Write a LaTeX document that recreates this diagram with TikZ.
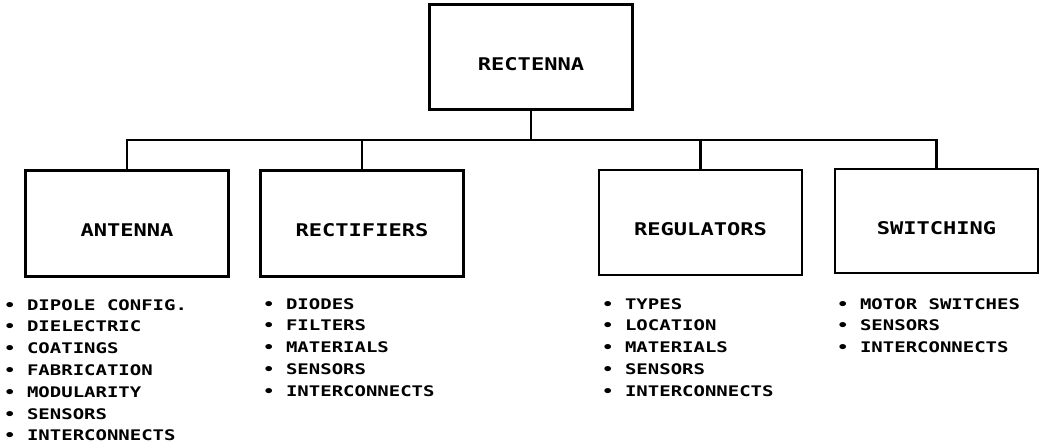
\documentclass[tikz,border=0pt]{standalone}
\usepackage{fontspec}
\newfontfamily\lero{DejaVu Sans Mono}[FakeStretch=1.3]
\newfontfamily\lerobig{DejaVu Sans Mono}[FakeStretch=1.26]
\begin{document}
\begin{tikzpicture}[x=1pt,y=-1pt,
  box/.style={draw,line width=2.5pt,rectangle,minimum width=203pt,minimum height=105pt,inner sep=0pt},
  boxlabel/.style={font=\lerobig\bfseries\fontsize{17.5}{19}\selectfont,inner sep=0pt},
  items/.style={font=\lero\bfseries\fontsize{14.6}{21.8}\selectfont,align=left,inner sep=0pt,anchor=north west},
  conn/.style={line width=2.5pt}]
\useasboundingbox (0,0) rectangle (1039,447);
% top
\node[box,label={[boxlabel,yshift=-7pt]center:RECTENNA}] (top) at (531,57) {};
% children
\node[box,minimum height=106pt,label={[boxlabel,yshift=-7pt]center:ANTENNA}] (ant) at (127,223.5) {};
\node[box,minimum height=106pt,label={[boxlabel,yshift=-7pt]center:RECTIFIERS}] (rect) at (362,223.5) {};
\node[box,minimum height=105pt,label={[boxlabel,yshift=-7pt]center:REGULATORS}] (reg) at (700.5,222.5) {};
\node[box,minimum height=104pt,label={[boxlabel,yshift=-7pt]center:SWITCHING}] (sw) at (936.5,221) {};
% connectors
\coordinate (j) at (531,140);
\draw[conn] (top.south) -- (j);
\draw[conn] (ant.north) |- (j) -| (sw.north);
\draw[conn] (rect.north) -- (rect.north |- j);
\draw[conn] (reg.north) -- (reg.north |- j);
% lists
\node[items] (la) at (4,299) {• DIPOLE CONFIG.\\• DIELECTRIC\\• COATINGS\\• FABRICATION\\• MODULARITY\\• SENSORS\\• INTERCONNECTS};
\node[items] (lb) at (263,298) {• DIODES\\• FILTERS\\• MATERIALS\\• SENSORS\\• INTERCONNECTS};
\node[items] (lc) at (602,298) {• TYPES\\• LOCATION\\• MATERIALS\\• SENSORS\\• INTERCONNECTS};
\node[items] (ld) at (837,298) {• MOTOR SWITCHES\\• SENSORS\\• INTERCONNECTS};
\end{tikzpicture}
\end{document}
